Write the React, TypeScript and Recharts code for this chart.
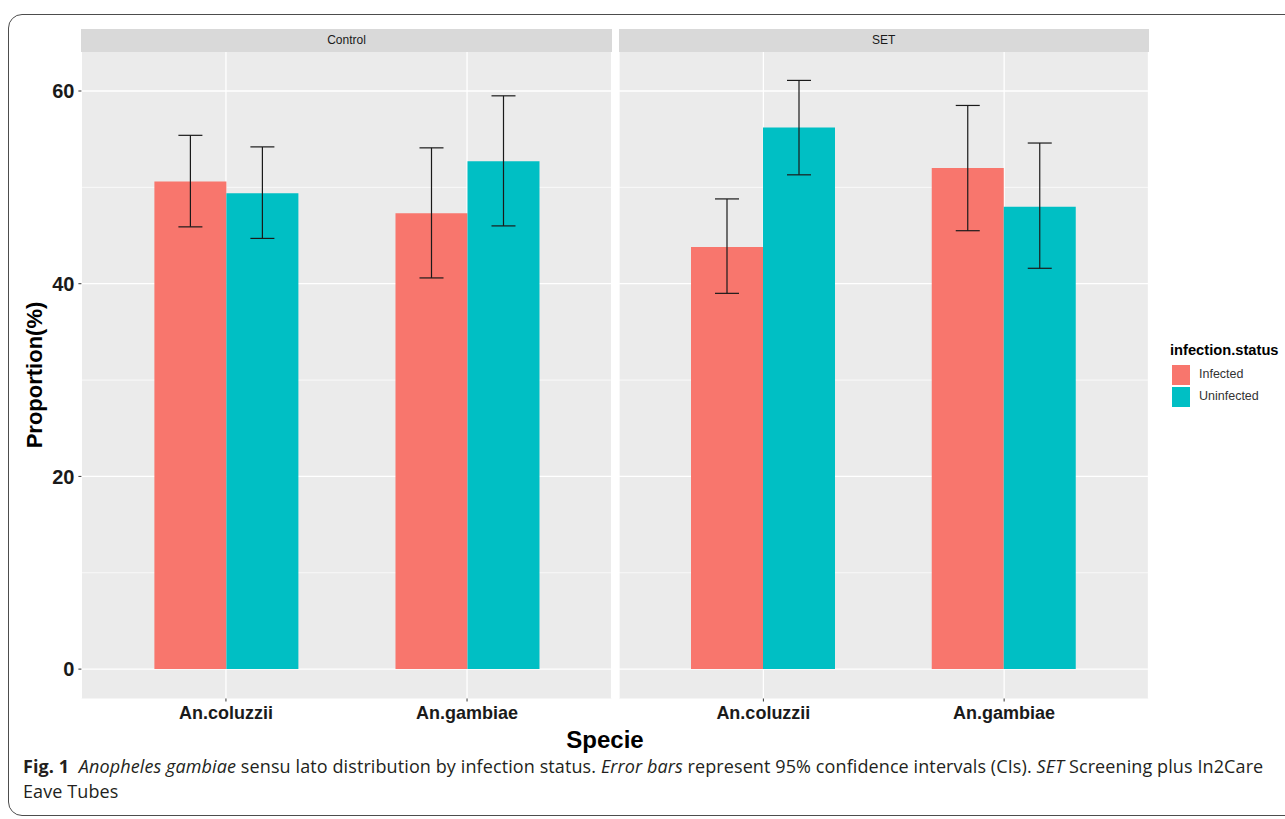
import { BarChart, Bar, XAxis, YAxis, CartesianGrid, ErrorBar } from "recharts";

// categories and facets
const categories = ["An.coluzzii", "An.gambiae"];
const facets = ["Control", "SET"];

// proportions (%)
const controlInfected = [50.6, 47.3];
const controlUninfected = [49.4, 52.7];
const controlInfectedLow = [45.9, 40.6];
const controlInfectedHigh = [55.4, 54.1];
const controlUninfectedLow = [44.7, 46.0];
const controlUninfectedHigh = [54.2, 59.5];

const setInfected = [43.8, 52.0];
const setUninfected = [56.2, 48.0];
const setInfectedLow = [39.0, 45.5];
const setInfectedHigh = [48.8, 58.5];
const setUninfectedLow = [51.3, 41.6];
const setUninfectedHigh = [61.1, 54.6];

const majorTicks = [0, 20, 40, 60];
const minorTicks = [10, 30, 50];
const yDomain: [number, number] = [-3.05, 64.1];

const INFECTED = "#F8766D";
const UNINFECTED = "#00BFC4";
const FONT = "'Liberation Sans', Arial, Helvetica, sans-serif";

function buildRows(inf: number[], uninf: number[], infLo: number[], infHi: number[], unLo: number[], unHi: number[]) {
  return categories.map((name, i) => ({
    name,
    Infected: inf[i],
    Uninfected: uninf[i],
    infErr: [inf[i] - infLo[i], infHi[i] - inf[i]],
    uninfErr: [uninf[i] - unLo[i], unHi[i] - uninf[i]],
  }));
}

const controlRows = buildRows(controlInfected, controlUninfected, controlInfectedLow, controlInfectedHigh, controlUninfectedLow, controlUninfectedHigh);
const setRows = buildRows(setInfected, setUninfected, setInfectedLow, setInfectedHigh, setUninfectedLow, setUninfectedHigh);

function Panel({ rows, showY, width }: { rows: any[]; showY: boolean; width: number }) {
  return (
    <BarChart
      width={width}
      height={730}
      data={rows}
      margin={{ top: 51.5, right: 0, bottom: 0, left: 0 }}
      barSize={72}
      barGap={0}
    >
      <CartesianGrid
        fill="#EBEBEB"
        stroke="#ffffff"
        strokeWidth={0.7}
        vertical={false}
        horizontalValues={minorTicks}
      />
      <CartesianGrid
        fill="none"
        stroke="#ffffff"
        strokeWidth={1.3}
        horizontalValues={majorTicks}
      />
      <XAxis
        dataKey="name"
        interval={0}
        padding={{ left: 24, right: 24 }}
        height={31.5}
        tickSize={3}
        tickMargin={5}
        axisLine={false}
        tickLine={{ stroke: "#333333" }}
        tick={{ fontSize: 18, fontWeight: "bold", fill: "#1a1a1a", fontFamily: FONT }}
      />
      <YAxis
        hide={!showY}
        width={81.4}
        domain={yDomain}
        allowDataOverflow
        ticks={majorTicks}
        tickSize={3}
        tickMargin={4}
        axisLine={false}
        tickLine={{ stroke: "#333333" }}
        tick={{ fontSize: 20, fontWeight: "bold", fill: "#1a1a1a", fontFamily: FONT }}
      />
      <Bar dataKey="Infected" fill={INFECTED} isAnimationActive={false}>
        <ErrorBar dataKey="infErr" width={12} stroke="#1a1a1a" strokeWidth={1.2} direction="y" isAnimationActive={false} />
      </Bar>
      <Bar dataKey="Uninfected" fill={UNINFECTED} isAnimationActive={false}>
        <ErrorBar dataKey="uninfErr" width={12} stroke="#1a1a1a" strokeWidth={1.2} direction="y" isAnimationActive={false} />
      </Bar>
    </BarChart>
  );
}

const stripStyle = {
  position: "absolute" as const,
  top: 29,
  height: 22.5,
  background: "#D9D9D9",
  color: "#1a1a1a",
  fontFamily: FONT,
  fontSize: 12,
  display: "flex",
  alignItems: "center",
  justifyContent: "center",
};

export default function App() {
  return (
    <div style={{ position: "absolute", left: 0, top: 0, width: 1285, height: 819, overflow: "hidden", background: "#fff" }}>
      {/* outer frame */}
      <div style={{ position: "absolute", left: 8, top: 14, width: 1320, height: 800, border: "1.5px solid #4d4d4d", borderRadius: 14 }} />

      <div style={{ position: "absolute", left: 0, top: 0 }}>
        <Panel rows={controlRows} showY={true} width={611.6} />
      </div>
      <div style={{ position: "absolute", left: 619, top: 0 }}>
        <Panel rows={setRows} showY={false} width={529.5} />
      </div>

      <div style={{ ...stripStyle, left: 81.4, width: 530.2 }}>{facets[0]}</div>
      <div style={{ ...stripStyle, left: 619, width: 529.5 }}>{facets[1]}</div>

      {/* axis titles */}
      <div
        style={{
          position: "absolute",
          left: 35,
          top: 375,
          transform: "translate(-50%, -50%) rotate(-90deg)",
          fontFamily: FONT,
          fontWeight: "bold",
          fontSize: 22,
          color: "#000",
          whiteSpace: "nowrap",
        }}
      >
        Proportion(%)
      </div>
      <div
        style={{
          position: "absolute",
          left: 605,
          top: 740,
          transform: "translate(-50%, -50%)",
          fontFamily: FONT,
          fontWeight: "bold",
          fontSize: 24,
          color: "#000",
          whiteSpace: "nowrap",
        }}
      >
        Specie
      </div>

      {/* legend */}
      <div style={{ position: "absolute", left: 1170, top: 342, fontFamily: FONT, fontWeight: "bold", fontSize: 14.7, color: "#000", whiteSpace: "nowrap" }}>
        infection.status
      </div>
      <div style={{ position: "absolute", left: 1172, top: 365, width: 18, height: 19.5, background: INFECTED }} />
      <div style={{ position: "absolute", left: 1172, top: 387, width: 18, height: 19.5, background: UNINFECTED }} />
      <div style={{ position: "absolute", left: 1199, top: 367, fontFamily: FONT, fontSize: 12.5, color: "#333" }}>Infected</div>
      <div style={{ position: "absolute", left: 1199, top: 389, fontFamily: FONT, fontSize: 12.5, color: "#333" }}>Uninfected</div>

      {/* caption */}
      <div
        style={{
          position: "absolute",
          left: 23,
          top: 754,
          fontFamily: "'Open Sans', 'Noto Sans', sans-serif",
          fontSize: 18,
          lineHeight: "25px",
          color: "#231f20",
          whiteSpace: "nowrap",
          letterSpacing: 0.1,
        }}
      >
        <b>Fig. 1</b>&nbsp;&nbsp;<i>Anopheles gambiae</i> sensu lato distribution by infection status. <i>Error bars</i> represent 95% confidence intervals (CIs). <i>SET</i> Screening plus In2Care
        <br />
        Eave Tubes
      </div>
    </div>
  );
}
